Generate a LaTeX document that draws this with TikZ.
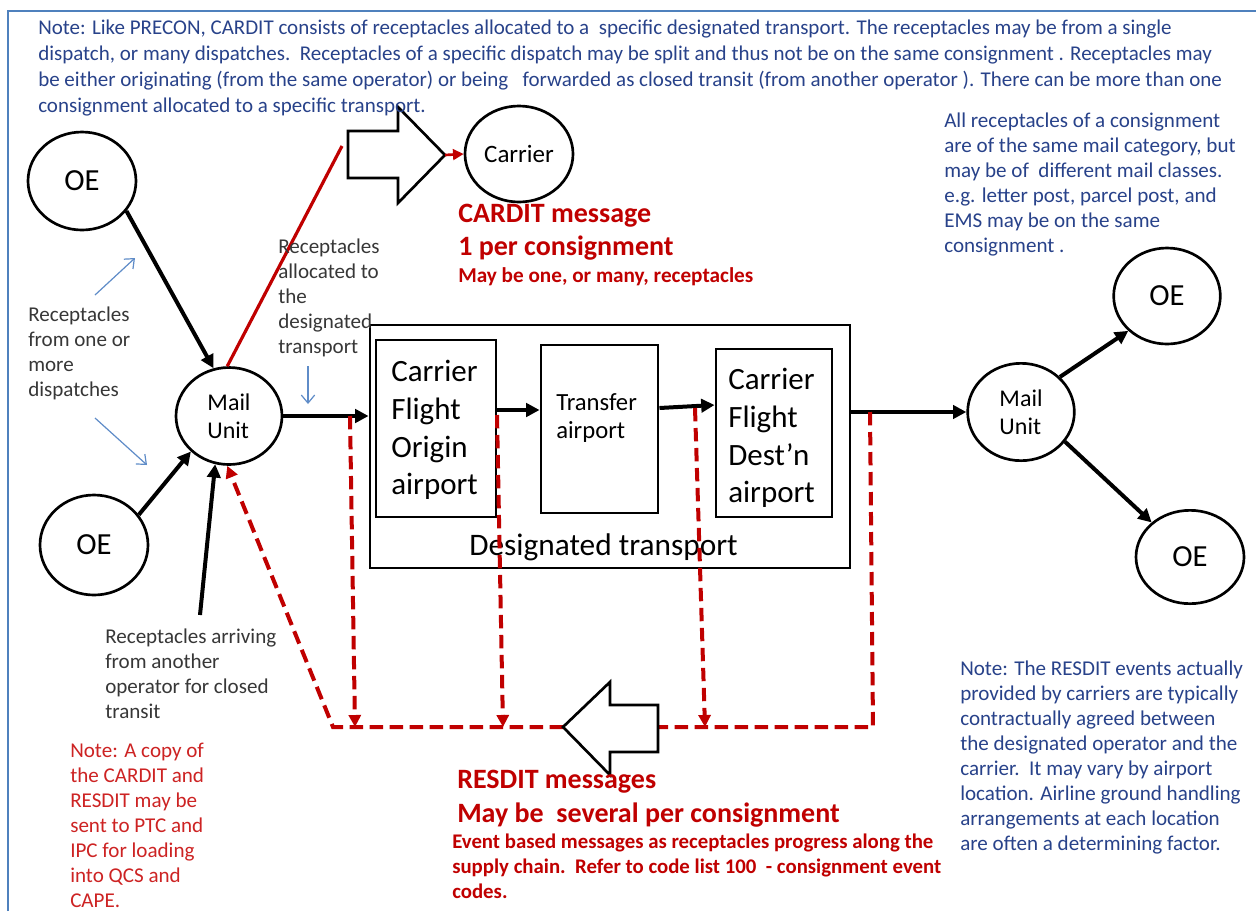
\documentclass[tikz,border=0pt]{standalone}
\usepackage{fontspec}
\setmainfont{Carlito}
\usetikzlibrary{arrows.meta,shapes.geometric,fit}
\definecolor{frameblue}{RGB}{79,129,189}
\definecolor{notenavy}{RGB}{40,66,138}
\definecolor{lblgray}{RGB}{55,55,55}
\definecolor{dred}{RGB}{192,0,0}
\definecolor{nred}{RGB}{205,35,35}
\definecolor{lblue}{RGB}{95,140,200}
\tikzset{
  ell/.style={draw, line width=2pt, ellipse, inner sep=0pt, align=left},
  blk/.style={draw, line width=2.2pt, inner sep=0pt},
  bar/.style={line width=3pt, -{Triangle[length=10pt,width=10pt]}},
  rdash/.style={dred, line width=3pt, dash pattern=on 10pt off 5pt},
  rtip/.style={-{Triangle[length=9pt,width=9pt]}},
  thinb/.style={lblue, line width=0.9pt, -{Straight Barb[length=6pt,width=10pt]}},
  txt/.style={inner sep=0pt, align=left, anchor=north west},
  fnote/.style={font=\fontsize{15.75}{19.3}\selectfont},
  flab/.style={font=\fontsize{15.8}{18.75}\selectfont},
  fbox/.style={font=\fontsize{23.25}{28.3}\selectfont},
  blockar/.style={draw, line width=2pt, fill=white},
}
\begin{document}
\begin{tikzpicture}[x=0.75pt,y=-0.75pt]
\useasboundingbox (0,0) rectangle (1256,911);
\fill[white] (0,0) rectangle (1256,911);
\draw[frameblue, line width=2.2pt] (8,911) -- (8,11) -- (1256,11);

% ellipses
\node[ell, minimum width=81pt, minimum height=73.5pt, font=\fontsize{23}{27}\selectfont] (oe1) at (82,181) {OE};
\node[ell, minimum width=81pt, minimum height=75pt, font=\fontsize{23}{27}\selectfont] (oe2) at (94,545) {OE};
\node[ell, minimum width=79.5pt, minimum height=72.75pt, font=\fontsize{18}{21}\selectfont] (mu1) at (229,416) {Mail\\Unit};
\node[ell, minimum width=81pt, minimum height=72pt, font=\fontsize{18.75}{22}\selectfont] (car) at (519,154) {Carrier};
\node[ell, minimum width=80pt, minimum height=73pt, font=\fontsize{18}{21}\selectfont] (mu2) at (1021,412) {Mail\\Unit};
\node[ell, minimum width=80pt, minimum height=72pt, font=\fontsize{23}{27}\selectfont] (oe3) at (1167,296) {OE};
\node[ell, minimum width=81pt, minimum height=70pt, font=\fontsize{23}{27}\selectfont] (oe4) at (1190,557) {OE};

% boxes
\node[blk, fit={(370,325) (850,568)}] (dt) {};
\node[blk, fit={(376,340) (496,517)}] (b1) {};
\node[blk, fit={(541,345) (658,513)}] (b2) {};
\node[blk, fit={(716,349) (832,517)}] (b3) {};
\node[txt, fbox] (b1t) at (391,360) {Carrier\\Flight\\Origin\\airport};
\node[txt, fbox] (b3t) at (728,368) {Carrier\\Flight\\Dest’n\\airport};
\node[txt, font=\fontsize{18.5}{21}\selectfont] (b2t) at (556,393) {Transfer\\airport};
\node[inner sep=0pt, anchor=base west, font=\fontsize{23.5}{27}\selectfont] (dtt) at (469,555) {Designated transport};

% black arrows
\draw[bar] (oe1.-34) -- (mu1.108);
\draw[bar] (oe2.34) -- (mu1.-137);
\coordinate (tr) at (200,615);
\draw[bar] (tr) -- (mu1.-106);
\draw[bar] (mu1.east) -- (mu1.east -| dt.west);
\coordinate (y410) at (0,410);
\coordinate (y408) at (0,408);
\coordinate (y405) at (0,405);
\draw[bar] (b1.east |- y410) -- (b2.west |- y410);
\draw[bar] (b2.east |- y408) -- (b3.west |- y405);
\draw[bar] (dt.east |- mu2.west) -- (mu2.west);
\draw[bar] (mu2.42) -- (oe3.-138);
\draw[bar] (mu2.-34) -- (oe4.138);

% CARDIT
\coordinate (rl) at (342,146);
\draw[dred, line width=2.4pt] (mu1.92) -- (rl);
\draw[blockar] (348,131) -- (398,131) -- (398,107) -- (445,155) -- (398,203) -- (398,178) -- (348,178) -- cycle;
\coordinate (ctip) at (445,155);
\draw[dred, line width=2pt, -{Triangle[length=8pt,width=8pt]}] (ctip) -- (car.west);

% RESDIT
\coordinate (ltip) at (563,727);
\coordinate (ltail) at (658,727);
\coordinate (d4t) at (870,412);
\coordinate (d4b) at (873,727);
\coordinate (corner) at (333,727);
\coordinate (d1t) at (350,416);
\coordinate (d1b) at (355,727);
\coordinate (d2t) at (497,415);
\coordinate (d2b) at (503,727);
\coordinate (d3t) at (695,408);
\coordinate (d3b) at (705,727);
\draw[rdash] (d4t) -- (d4b) -- (ltail);
\draw[rdash, rtip] (ltip) -- (corner) -- (mu1.-92);
\draw[rdash, rtip] (d1t) -- (d1b);
\draw[rdash, rtip] (d2t) -- (d2b);
\draw[rdash, rtip] (d3t) -- (d3b);
\draw[blockar] (563,727) -- (610,682) -- (610,705) -- (658,705) -- (658,752) -- (610,752) -- (610,775) -- cycle;

% thin blue arrows
\coordinate (ba1) at (95,295); \coordinate (ba1e) at (135,258);
\coordinate (ba2) at (95,418); \coordinate (ba2e) at (147,465);
\coordinate (ba3) at (308,366); \coordinate (ba3e) at (308,404);
\draw[thinb] (ba1) -- (ba1e);
\draw[thinb] (ba2) -- (ba2e);
\draw[thinb] (ba3) -- (ba3e);

% texts
\node[txt, fnote, text=notenavy] (topnote) at (38,20) {Note: Like PRECON, CARDIT consists of receptacles allocated to a\ \ specific designated transport. The receptacles may be from a single\\dispatch, or many dispatches.\ \ Receptacles of a specific dispatch may be split and thus not be on the same consignment . Receptacles may\\be either originating (from the same operator) or being\ \ \ forwarded as closed transit (from another operator ). There can be more than one\\consignment allocated to a specific transport.};
\node[txt, flab, text=notenavy] (rnote) at (944,113) {All receptacles of a consignment\\are of the same mail category, but\\may be of\ \ different mail classes.\\e.g. letter post, parcel post, and\\EMS may be on the same\\consignment .};
\node[txt, flab, text=lblgray] (lfrom) at (28,307) {Receptacles\\from one or\\more\\dispatches};
\node[txt, flab, text=lblgray] (lalloc) at (278,239) {Receptacles\\allocated to\\the\\designated\\transport};
\node[txt, flab, text=lblgray] (larr) at (105,629) {Receptacles arriving\\from another\\operator for closed\\transit};
\node[txt, flab, text=nred] (rednote) at (70,743) {Note: A copy of\\the CARDIT and\\RESDIT may be\\sent to PTC and\\IPC for loading\\into QCS and\\CAPE.};
\node[txt, flab, text=notenavy] (rbnote) at (960,661) {Note: The RESDIT events actually\\provided by carriers are typically\\contractually agreed between\\the designated operator and the\\carrier.\ \ It may vary by airport\\location. Airline ground handling\\arrangements at each location\\are often a determining factor.};

\node[inner sep=0pt, anchor=base west, text=dred, font=\bfseries\fontsize{21}{25}\selectfont] (cm1) at (458,222) {CARDIT message};
\node[inner sep=0pt, anchor=base west, text=dred, font=\bfseries\fontsize{21}{25}\selectfont] (cm2) at (458,255) {1 per consignment};
\node[inner sep=0pt, anchor=base west, text=dred, font=\bfseries\fontsize{15.9}{18.75}\selectfont] (cm3) at (458,282) {May be one, or many, receptacles};

\node[inner sep=0pt, anchor=base west, text=dred, font=\bfseries\fontsize{21}{25}\selectfont] (rm1) at (457,788) {RESDIT messages};
\node[inner sep=0pt, anchor=base west, text=dred, font=\bfseries\fontsize{21}{25}\selectfont] (rm2) at (457,822) {May be\ \ several per consignment};
\node[txt, text=dred, font=\bfseries\fontsize{15.6}{18.75}\selectfont] (rm3) at (452,834) {Event based messages as receptacles progress along the\\supply chain.\ \ Refer to code list 100\ \ - consignment event\\codes.};
\end{tikzpicture}
\end{document}
